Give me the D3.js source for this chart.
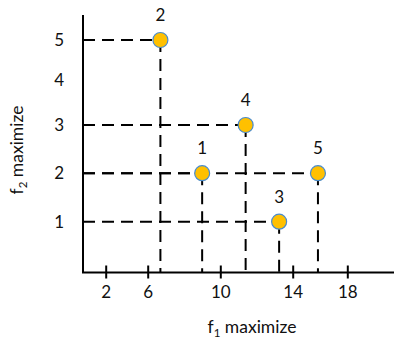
<!DOCTYPE html>
<html>
<head>
<meta charset="utf-8">
<script src="https://cdn.jsdelivr.net/npm/d3@7/dist/d3.min.js"></script>
<style>
  html, body { margin: 0; padding: 0; background: #fff; }
  svg { display: block; font-family: Lato, "Open Sans", sans-serif; }
</style>
</head>
<body>
<svg id="chart" width="394" height="340"></svg>
<script>
// Solutions in objective space (both objectives maximised)
const pointLabels = ["1", "2", "3", "4", "5"];
const f1Values = [9.0, 6.7, 13.25, 11.4, 15.85];
const f2Values = [2, 5, 1, 3, 2];

// Axis tick values
const xTickValues = [2, 6, 10, 14, 18];
const yTickValues = [1, 2, 3, 4, 5];

const svg = d3.select("#chart");

const originX = 83, originY = 272.5, axisTop = 15, axisRight = 394;
const fontFamily = "Lato, 'Open Sans', sans-serif";

// The sketch's axes are not evenly spaced, so piecewise-linear scales are used
const x = d3.scaleLinear()
  .domain(xTickValues)
  .range([105.7, 147.7, 220.3, 292.7, 347.3]);
const y = d3.scaleLinear()
  .domain(yTickValues)
  .range([221.7, 173.2, 125, 80.5, 40]);

const data = pointLabels.map((label, i) => ({ label, f1: f1Values[i], f2: f2Values[i] }));

// Dashed guide lines from each point to both axes
const guides = svg.append("g")
  .attr("stroke", "#000")
  .attr("stroke-width", 2)
  .attr("stroke-dasharray", "12,7")
  .attr("fill", "none");

guides.selectAll("line.h").data(data).join("line")
  .attr("class", "h")
  .attr("x1", originX).attr("y1", d => y(d.f2))
  .attr("x2", d => x(d.f1)).attr("y2", d => y(d.f2));

guides.selectAll("line.v").data(data).join("line")
  .attr("class", "v")
  .attr("x1", d => x(d.f1)).attr("y1", d => y(d.f2))
  .attr("x2", d => x(d.f1)).attr("y2", originY);

// X axis: ticks crossing the axis line
const xAxis = svg.append("g")
  .attr("transform", `translate(0,${originY})`)
  .call(d3.axisBottom(x).tickValues(xTickValues).tickSize(6).tickPadding(7).tickFormat(d3.format("d")));
xAxis.select(".domain").remove();
xAxis.selectAll(".tick line")
  .attr("y1", -7).attr("y2", 6)
  .attr("stroke", "#000").attr("stroke-width", 2);
xAxis.selectAll(".tick text")
  .attr("font-size", 17).attr("fill", "#111")
  .attr("font-family", fontFamily);

// Y axis: labels only
const yAxis = svg.append("g")
  .attr("transform", `translate(${originX},0)`)
  .call(d3.axisLeft(y).tickValues(yTickValues).tickSize(0).tickPadding(19).tickFormat(d3.format("d")));
yAxis.select(".domain").remove();
yAxis.selectAll(".tick text")
  .attr("font-size", 17).attr("fill", "#111")
  .attr("font-family", fontFamily);

// Axis lines
svg.append("path")
  .attr("d", `M${originX},${axisTop}V${originY}H${axisRight}`)
  .attr("fill", "none")
  .attr("stroke", "#000")
  .attr("stroke-width", 2);

// Points
svg.append("g").selectAll("circle").data(data).join("circle")
  .attr("cx", d => x(d.f1))
  .attr("cy", d => y(d.f2))
  .attr("r", 7.5)
  .attr("fill", "#FFC000")
  .attr("stroke", "#4A8BCB")
  .attr("stroke-width", 1.2);

// Point labels
svg.append("g").selectAll("text").data(data).join("text")
  .attr("x", d => x(d.f1))
  .attr("y", d => y(d.f2) - 19)
  .attr("text-anchor", "middle")
  .attr("font-size", 17)
  .attr("fill", "#111")
  .text(d => d.label);

// Axis titles with subscripts
const xTitle = svg.append("text")
  .attr("x", 252).attr("y", 333)
  .attr("text-anchor", "middle")
  .attr("font-size", 17.5)
  .attr("fill", "#111");
xTitle.append("tspan").text("f");
xTitle.append("tspan").attr("font-size", 11.5).attr("dy", 4).text("1");
xTitle.append("tspan").attr("dy", -4).text(" maximize");

const yTitle = svg.append("text")
  .attr("transform", "translate(23,150) rotate(-90)")
  .attr("text-anchor", "middle")
  .attr("font-size", 17.5)
  .attr("fill", "#111");
yTitle.append("tspan").text("f");
yTitle.append("tspan").attr("font-size", 11.5).attr("dy", 4).text("2");
yTitle.append("tspan").attr("dy", -4).text(" maximize");
</script>
</body>
</html>
